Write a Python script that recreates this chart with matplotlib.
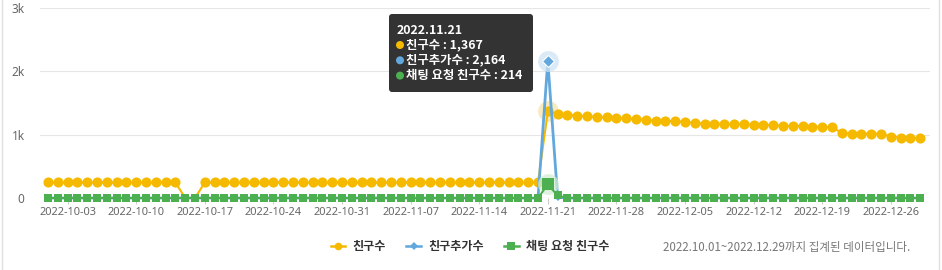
import matplotlib
matplotlib.use('Agg')
import matplotlib.pyplot as plt
import matplotlib.dates as mdates
from matplotlib.patches import FancyBboxPatch, Circle
from matplotlib.lines import Line2D
import datetime as dt

plt.rcParams['font.family'] = ['Noto Sans CJK KR', 'DejaVu Sans']

# ---------------- data ----------------
start_date = dt.date(2022, 10, 1)
dates = [start_date + dt.timedelta(days=i) for i in range(90)]   # 2022-10-01 .. 2022-12-29

friends = ([245] * 14 + [0, 0] + [245] * 35 +
           [1367, 1330, 1315, 1300, 1290, 1280, 1272, 1265, 1258, 1244,
            1233, 1217, 1217, 1215, 1201, 1186, 1175, 1175, 1170, 1170,
            1168, 1154, 1154, 1152, 1138, 1138, 1136, 1122, 1122, 1120,
            1026, 1018, 1018, 1016, 1015, 968, 955, 952, 941])
friend_adds = [0] * 51 + [2164, 15] + [0] * 37
chat_requests = [0] * 51 + [214, 40] + [0] * 37

series_names = ['친구수', '친구추가수', '채팅 요청 친구수']
colors = ['#F5B900', '#62A8DD', '#4CAF50']
halo_colors = ['#F8E3A8', '#CFE4F5', '#D3ECD4']

tick_labels = ['2022-10-03', '2022-10-10', '2022-10-17', '2022-10-24', '2022-10-31',
               '2022-11-07', '2022-11-14', '2022-11-21', '2022-11-28', '2022-12-05',
               '2022-12-12', '2022-12-19', '2022-12-26']
y_ticks = [0, 1000, 2000, 3000]
y_tick_labels = ['0', '1k', '2k', '3k']
hover_index = 51
footnote = '2022.10.01~2022.12.29까지 집계된 데이터입니다.'

# ---------------- figure ----------------
W, H = 942, 270
fig = plt.figure(figsize=(W / 100, H / 100), dpi=100)
fig.patch.set_facecolor('white')

ax = fig.add_axes([40 / W, 72 / H, 890 / W, 190 / H])
x = mdates.date2num(dates)
x0 = x[0]
ax.set_xlim(x0 - 0.82, x0 + 90.0)
ax.set_ylim(0, 3000)

for s in ax.spines.values():
    s.set_visible(False)

ax.set_yticks(y_ticks)
ax.set_yticklabels(y_tick_labels)
ax.tick_params(axis='y', length=0, pad=11, labelsize=8.5, labelcolor='#666666')
ax.grid(axis='y', color='#E6E6E6', linewidth=0.8, zorder=0)
ax.axhline(0, color='#D6D6D6', linewidth=0.8, zorder=1)

tick_pos = [mdates.date2num(dt.datetime.strptime(t, '%Y-%m-%d')) for t in tick_labels]
ax.set_xticks(tick_pos)
ax.set_xticklabels(tick_labels)
ax.tick_params(axis='x', length=4, width=0.8, color='#CCCCCC', pad=2.5,
               labelsize=7.9, labelcolor='#666666')
for lab in ax.get_xticklabels():
    lab.set_family(['Noto Sans', 'DejaVu Sans'])
for lab in ax.get_yticklabels():
    lab.set_family(['Noto Sans', 'DejaVu Sans'])

# series
friend_marks = [i for i, v in enumerate(friends) if v > 0]
l1, = ax.plot(x, friends, color=colors[0], linewidth=1.5, marker='o', markersize=7.3,
              markeredgewidth=0, markevery=friend_marks, zorder=3, clip_on=False)
l2, = ax.plot(x, friend_adds, color=colors[1], linewidth=2.0, marker='D', markersize=4,
              markeredgewidth=0, zorder=4, clip_on=False)
l3, = ax.plot(x, chat_requests, color=colors[2], linewidth=1.5, marker='s', markersize=6.2,
              markeredgewidth=0, zorder=5, clip_on=False)

# hover halos
hx = x[hover_index]
for vals, hc, z in [(friends, halo_colors[0], 2.5), (friend_adds, halo_colors[1], 4.5),
                    (chat_requests, halo_colors[2], 4.6)]:
    ax.plot([hx], [vals[hover_index]], marker='o', markersize=15, color=hc,
            alpha=0.75, markeredgewidth=0, zorder=z, clip_on=False)
ax.plot([hx], [friend_adds[hover_index]], marker='D', markersize=6.5, color=colors[1],
        markeredgecolor='white', markeredgewidth=0.8, zorder=4.8, clip_on=False)
ax.plot([hx], [chat_requests[hover_index]], marker='s', markersize=8.5, color=colors[2],
        markeredgewidth=0, zorder=5.2, clip_on=False)

# legend
leg_handles = [
    Line2D([], [], color=colors[0], linewidth=1.8, marker='o', markersize=5.5, markeredgewidth=0),
    Line2D([], [], color=colors[1], linewidth=1.8, marker='D', markersize=4, markeredgewidth=0),
    Line2D([], [], color=colors[2], linewidth=1.8, marker='s', markersize=5.5, markeredgewidth=0),
]
leg = fig.legend(leg_handles, series_names, loc='center', bbox_to_anchor=(470 / W, 1 - 246.5 / H),
                 ncol=3, frameon=False, handlelength=1.2, handletextpad=0.6, columnspacing=1.7,
                 prop={'size': 8.7, 'weight': 'bold'})
for t in leg.get_texts():
    t.set_color('#333333')

# overlay in pixel coordinates
ov = fig.add_axes([0, 0, 1, 1])
ov.set_xlim(0, W)
ov.set_ylim(H, 0)
ov.axis('off')

# container borders
ov.plot([2, 2], [0, H], color='#E0E0E0', linewidth=1)
ov.plot([938.5, 938.5], [0, H], color='#E0E0E0', linewidth=1)

# footnote
ov.text(910, 248, footnote, ha='right', va='center', fontsize=8.3, color='#777777')

# tooltip
box = FancyBboxPatch((389, 14), 144, 78, boxstyle='round,pad=0,rounding_size=3',
                     facecolor='#333333', edgecolor='none', zorder=10)
ov.add_patch(box)
ov.text(397, 30, dates[hover_index].strftime('%Y.%m.%d'), color='white', fontsize=8.9,
        fontweight='bold', va='center', ha='left', zorder=11)
rows = [f'{series_names[0]} : {friends[hover_index]:,}',
        f'{series_names[1]} : {friend_adds[hover_index]:,}',
        f'{series_names[2]} : {chat_requests[hover_index]:,}']
for i, (r, c) in enumerate(zip(rows, colors)):
    yy = 45 + i * 15.3
    ov.add_patch(Circle((400, yy), 4, facecolor=c, edgecolor='none', zorder=11))
    ov.text(406, yy, r, color='white', fontsize=8.9, fontweight='bold', va='center',
            ha='left', zorder=11)

fig.savefig('out.png', dpi=100, facecolor='white')
